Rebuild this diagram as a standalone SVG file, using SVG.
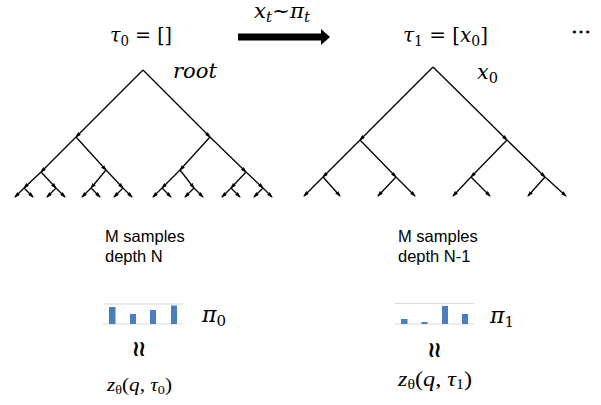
<svg xmlns="http://www.w3.org/2000/svg" width="601" height="405" viewBox="0 0 601 405">
<style>
.m{font-family:"DejaVu Serif","Liberation Serif",serif;font-size:20px;fill:#000}
.z{font-family:"Liberation Serif","Times New Roman",serif;fill:#000}
.i{font-style:italic}
.s{font-family:"Liberation Sans",Arial,sans-serif;font-size:16.5px;fill:#000}
.e{stroke:#000;stroke-width:1.3;fill:none;marker-end:url(#ah)}
.g{stroke:#d9d9d9;stroke-width:1.2}
.b{fill:#4a7ebf}
.w{font-family:"DejaVu Sans","Liberation Sans",sans-serif;font-size:22px;font-weight:bold;fill:#000}
</style>
<defs>
<marker id="ah" viewBox="0 0 6 4" refX="5" refY="2" markerWidth="6" markerHeight="4" markerUnits="userSpaceOnUse" orient="auto">
<path d="M0,0 L6,2 L0,4 z" fill="#000"/>
</marker>
</defs>
<rect width="601" height="405" fill="#fff"/>

<g id="labels-top">
<text class="m" x="110" y="42" textLength="62" lengthAdjust="spacingAndGlyphs"><tspan class="i">τ</tspan><tspan font-size="14" dy="4">0</tspan><tspan dy="-4"> = []</tspan></text>
<text class="m" x="254" y="18" textLength="56" lengthAdjust="spacingAndGlyphs"><tspan class="i">x</tspan><tspan class="i" font-size="14" dy="4">t</tspan><tspan dy="-4">~</tspan><tspan class="i">π</tspan><tspan class="i" font-size="14" dy="4">t</tspan></text>
<text class="m" x="403" y="42" textLength="85" lengthAdjust="spacingAndGlyphs"><tspan class="i">τ</tspan><tspan font-size="14" dy="4">1</tspan><tspan dy="-4"> = [</tspan><tspan class="i">x</tspan><tspan font-size="14" dy="4">0</tspan><tspan dy="-4">]</tspan></text>
<text class="m" x="571" y="38" font-weight="bold">⋯</text>
</g>

<g id="big-arrow">
<path d="M238,33.5 L321,33.5 L321,29 L330,37 L321,45 L321,40.5 L238,40.5 z" fill="#000"/>
</g>

<g id="connectors">
<g id="tree0">
<line class="e" x1="143" y1="70" x2="76" y2="137"/>
<line class="e" x1="143" y1="70" x2="210" y2="137"/>
<line class="e" x1="76" y1="137" x2="41" y2="172"/>
<line class="e" x1="76" y1="137" x2="106" y2="170"/>
<line class="e" x1="210" y1="137" x2="180" y2="170"/>
<line class="e" x1="210" y1="137" x2="246" y2="172"/>
<line class="e" x1="41" y1="172" x2="24" y2="188"/>
<line class="e" x1="41" y1="172" x2="56" y2="188"/>
<line class="e" x1="106" y1="170" x2="91" y2="188"/>
<line class="e" x1="106" y1="170" x2="123" y2="188"/>
<line class="e" x1="180" y1="170" x2="162" y2="188"/>
<line class="e" x1="180" y1="170" x2="194" y2="188"/>
<line class="e" x1="246" y1="172" x2="231" y2="188"/>
<line class="e" x1="246" y1="172" x2="263" y2="188"/>
<line class="e" x1="24" y1="188" x2="15" y2="197"/>
<line class="e" x1="24" y1="188" x2="33" y2="197"/>
<line class="e" x1="56" y1="188" x2="47" y2="197"/>
<line class="e" x1="56" y1="188" x2="65" y2="197"/>
<line class="e" x1="91" y1="188" x2="82" y2="197"/>
<line class="e" x1="91" y1="188" x2="100" y2="197"/>
<line class="e" x1="123" y1="188" x2="114" y2="197"/>
<line class="e" x1="123" y1="188" x2="132" y2="197"/>
<line class="e" x1="162" y1="188" x2="153" y2="197"/>
<line class="e" x1="162" y1="188" x2="171" y2="197"/>
<line class="e" x1="194" y1="188" x2="185" y2="197"/>
<line class="e" x1="194" y1="188" x2="203" y2="197"/>
<line class="e" x1="231" y1="188" x2="222" y2="197"/>
<line class="e" x1="231" y1="188" x2="240" y2="197"/>
<line class="e" x1="263" y1="188" x2="254" y2="197"/>
<line class="e" x1="263" y1="188" x2="272" y2="197"/>
</g>
<g id="tree1">
<line class="e" x1="433" y1="67" x2="360" y2="140"/>
<line class="e" x1="433" y1="67" x2="507" y2="140"/>
<line class="e" x1="360" y1="140" x2="323" y2="177"/>
<line class="e" x1="360" y1="140" x2="396" y2="177"/>
<line class="e" x1="507" y1="140" x2="471" y2="177"/>
<line class="e" x1="507" y1="140" x2="545" y2="177"/>
<line class="e" x1="323" y1="177" x2="304" y2="196"/>
<line class="e" x1="323" y1="177" x2="340" y2="196"/>
<line class="e" x1="396" y1="177" x2="378" y2="196"/>
<line class="e" x1="396" y1="177" x2="415" y2="196"/>
<line class="e" x1="471" y1="177" x2="453" y2="196"/>
<line class="e" x1="471" y1="177" x2="490" y2="196"/>
<line class="e" x1="545" y1="177" x2="528" y2="196"/>
<line class="e" x1="545" y1="177" x2="566" y2="196"/>
</g>
</g>

<g id="root-label"><text class="m i" x="173" y="78" textLength="44" lengthAdjust="spacingAndGlyphs">root</text></g>
<g id="x0-label"><text class="m" x="477" y="79" textLength="21" lengthAdjust="spacingAndGlyphs"><tspan class="i">x</tspan><tspan font-size="14" dy="4">0</tspan></text></g>

<g id="panel0">
<text class="s" x="105" y="242">M samples</text>
<text class="s" x="105" y="262">depth N</text>
<line class="g" x1="103" y1="304" x2="183" y2="304"/>
<line class="g" x1="103" y1="324" x2="183" y2="324"/>
<rect class="b" x="109" y="307" width="6.5" height="17"/>
<rect class="b" x="130" y="314" width="6" height="10"/>
<rect class="b" x="150" y="310" width="6" height="14"/>
<rect class="b" x="171" y="305.5" width="6" height="18.5"/>
<text class="m" x="202" y="322"><tspan class="i" font-size="22">π</tspan><tspan font-size="15" dy="4">0</tspan></text>
<text class="w" x="138" y="356" text-anchor="middle" letter-spacing="-2">≀≀</text>
<text class="z" x="107" y="391" font-size="19.5" textLength="65" lengthAdjust="spacingAndGlyphs"><tspan class="i">z</tspan><tspan font-size="13" dy="3">θ</tspan><tspan dy="-3">(</tspan><tspan class="i">q</tspan><tspan>, </tspan><tspan class="i">τ</tspan><tspan font-size="13" dy="3">0</tspan><tspan dy="-3">)</tspan></text>
</g>

<g id="panel1">
<text class="s" x="398" y="242">M samples</text>
<text class="s" x="398" y="262">depth N-1</text>
<line class="g" x1="395" y1="303.5" x2="474" y2="303.5"/>
<line class="g" x1="395" y1="324" x2="474" y2="324"/>
<rect class="b" x="401" y="319" width="6.5" height="5"/>
<rect class="b" x="421.5" y="322" width="6" height="2"/>
<rect class="b" x="442" y="306" width="6" height="18"/>
<rect class="b" x="462" y="314" width="6" height="10"/>
<text class="m" x="490" y="323"><tspan class="i" font-size="22">π</tspan><tspan font-size="15" dy="4">1</tspan></text>
<text class="w" x="433.5" y="357" text-anchor="middle" letter-spacing="-2">≀≀</text>
<text class="z" x="398" y="386" font-size="21.5" textLength="74" lengthAdjust="spacingAndGlyphs"><tspan class="i">z</tspan><tspan font-size="14" dy="3">θ</tspan><tspan dy="-3">(</tspan><tspan class="i">q</tspan><tspan>, </tspan><tspan class="i">τ</tspan><tspan font-size="14" dy="3">1</tspan><tspan dy="-3">)</tspan></text>
</g>
</svg>
